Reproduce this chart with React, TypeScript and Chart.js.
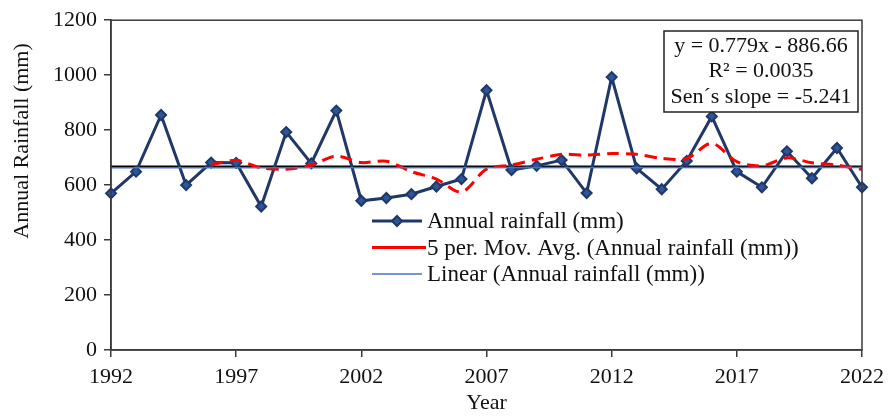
import React, { useEffect, useRef } from 'react';
import { Chart, registerables } from 'chart.js';

Chart.register(...registerables);

const years = [1992, 1993, 1994, 1995, 1996, 1997, 1998, 1999, 2000, 2001, 2002, 2003, 2004, 2005, 2006, 2007, 2008, 2009, 2010, 2011, 2012, 2013, 2014, 2015, 2016, 2017, 2018, 2019, 2020, 2021, 2022];
const rainfall = [570, 649, 855, 600, 682, 681, 522, 793, 679, 871, 543, 553, 567, 595, 622, 945, 655, 670, 691, 571, 993, 661, 585, 688, 850, 649, 592, 723, 625, 735, 592];

const movAvgYears = [1996, 1997, 1998, 1999, 2000, 2001, 2002, 2003, 2004, 2005, 2006, 2007, 2008, 2009, 2010, 2011, 2012, 2013, 2014, 2015, 2016, 2017, 2018, 2019, 2020, 2021, 2022];
const movAvg = [674, 690, 663, 658, 673, 705, 682, 687, 649, 622, 575, 658, 673, 694, 712, 709, 715, 712, 697, 697, 752, 685, 670, 699, 681, 673, 657];

const lineYears = [1992, 2022];
const meanLine = [668, 668];
const trendLine = [663, 664];

const xTickValues = [1992, 1997, 2002, 2007, 2012, 2017, 2022];
const yTickValues = [0, 200, 400, 600, 800, 1000, 1200];

const legendLabels = [
  'Annual rainfall (mm)',
  '5 per. Mov. Avg. (Annual rainfall (mm))',
  'Linear (Annual rainfall (mm))',
];
const statsLines = ['y = 0.779x - 886.66', 'R\u00B2 = 0.0035', 'Sen\u00B4s slope = -5.241'];
const xTitle = 'Year';
const yTitle = 'Annual Rainfall (mm)';

const FONT = '"Liberation Serif", "Times New Roman", serif';
const NAVY = '#1f3868';
const MARKER = '#2e559a';
const RED = '#ff0000';
const TREND = '#4472c4';
const AXIS = '#3a3a3a';

function drawDiamond(ctx: CanvasRenderingContext2D, x: number, y: number, r: number) {
  ctx.beginPath();
  ctx.moveTo(x - r, y);
  ctx.lineTo(x, y - r);
  ctx.lineTo(x + r, y);
  ctx.lineTo(x, y + r);
  ctx.closePath();
  ctx.fillStyle = MARKER;
  ctx.fill();
  ctx.lineWidth = 2;
  ctx.strokeStyle = NAVY;
  ctx.stroke();
}

const framePlugin = {
  id: 'frame',
  afterDatasetsDraw(chart: any) {
    const { ctx, chartArea } = chart;
    ctx.save();
    ctx.strokeStyle = AXIS;
    ctx.lineWidth = 1.5;
    ctx.strokeRect(chartArea.left, chartArea.top, chartArea.right - chartArea.left, chartArea.bottom - chartArea.top);
    ctx.restore();
  },
  afterDraw(chart: any) {
    const { ctx } = chart;
    ctx.save();
    // y title
    ctx.font = `22px ${FONT}`;
    ctx.fillStyle = '#111';
    ctx.textAlign = 'center';
    ctx.textBaseline = 'middle';
    ctx.translate(22, 141);
    ctx.rotate(-Math.PI / 2);
    ctx.fillText(yTitle, 0, 0);
    ctx.restore();

    // legend
    ctx.save();
    ctx.font = `23px ${FONT}`;
    ctx.textAlign = 'left';
    ctx.textBaseline = 'middle';
    const rows = [221, 247.5, 274];
    ctx.strokeStyle = NAVY;
    ctx.lineWidth = 3;
    ctx.beginPath();
    ctx.moveTo(372, rows[0]);
    ctx.lineTo(422, rows[0]);
    ctx.stroke();
    drawDiamond(ctx, 397, rows[0], 5);
    ctx.strokeStyle = RED;
    ctx.lineWidth = 3;
    ctx.beginPath();
    ctx.moveTo(372, rows[1]);
    ctx.lineTo(426, rows[1]);
    ctx.stroke();
    ctx.strokeStyle = TREND;
    ctx.lineWidth = 1.5;
    ctx.beginPath();
    ctx.moveTo(372, rows[2]);
    ctx.lineTo(422, rows[2]);
    ctx.stroke();
    ctx.fillStyle = '#111';
    legendLabels.forEach((t, i) => ctx.fillText(t, 427, rows[i] + 1));
    ctx.restore();

    // stats box
    ctx.save();
    ctx.fillStyle = '#ffffff';
    ctx.fillRect(664, 31, 194, 81);
    ctx.strokeStyle = '#222';
    ctx.lineWidth = 1.5;
    ctx.strokeRect(664, 31, 194, 81);
    ctx.font = `22px ${FONT}`;
    ctx.fillStyle = '#111';
    ctx.textAlign = 'center';
    ctx.textBaseline = 'middle';
    const sy = [46, 71, 97];
    statsLines.forEach((t, i) => ctx.fillText(t, 761, sy[i]));
    ctx.restore();
  },
};

export default function App() {
  const ref = useRef<HTMLCanvasElement | null>(null);

  useEffect(() => {
    if (!ref.current) return;
    const chart = new Chart(ref.current, {
      type: 'line',
      data: {
        datasets: [
          {
            label: 'mean',
            data: lineYears.map((x, i) => ({ x, y: meanLine[i] })),
            borderColor: '#000000',
            borderWidth: 2,
            pointRadius: 0,
            order: 4,
            clip: false,
          },
          {
            label: legendLabels[0],
            data: years.map((x, i) => ({ x, y: rainfall[i] })),
            borderColor: NAVY,
            borderWidth: 3,
            pointStyle: 'rectRot',
            pointRadius: 5,
            pointBorderWidth: 2,
            pointBackgroundColor: MARKER,
            pointBorderColor: NAVY,
            order: 3,
            clip: false,
          },
          {
            label: legendLabels[1],
            data: movAvgYears.map((x, i) => ({ x, y: movAvg[i] })),
            borderColor: RED,
            borderWidth: 3,
            borderDash: [12, 7],
            pointRadius: 0,
            tension: 0.3,
            order: 2,
            clip: false,
          },
          {
            label: legendLabels[2],
            data: lineYears.map((x, i) => ({ x, y: trendLine[i] })),
            borderColor: TREND,
            borderWidth: 1.5,
            pointRadius: 0,
            order: 1,
            clip: false,
          },
        ],
      },
      options: {
        animation: false,
        responsive: false,
        events: [],
        layout: { padding: { top: 18, right: 28, left: 0, bottom: 0 } },
        plugins: { legend: { display: false }, tooltip: { enabled: false }, title: { display: false } },
        scales: {
          x: {
            type: 'linear',
            min: 1992,
            max: 2022,
            afterFit: (s: any) => { s.height = 70; },
            afterBuildTicks: (s: any) => { s.ticks = xTickValues.map((v) => ({ value: v })); },
            ticks: {
              font: { family: FONT, size: 22 },
              color: '#111',
              padding: 7,
              maxRotation: 0,
              autoSkip: false,
              callback: (v: any) => String(v),
            },
            grid: { drawOnChartArea: false, drawTicks: true, tickLength: 7, color: AXIS, lineWidth: 1.5 },
            border: { color: AXIS, width: 1.5 },
            title: { display: true, text: xTitle, font: { family: FONT, size: 22 }, color: '#111', padding: { top: 0, bottom: 4 } },
          },
          y: {
            min: 0,
            max: 1200,
            afterFit: (s: any) => { s.width = 111; },
            afterBuildTicks: (s: any) => { s.ticks = yTickValues.map((v) => ({ value: v })); },
            ticks: {
              font: { family: FONT, size: 22 },
              color: '#111',
              padding: 7,
              callback: (v: any) => String(v),
            },
            grid: { drawOnChartArea: false, drawTicks: true, tickLength: 7, color: AXIS, lineWidth: 1.5 },
            border: { color: AXIS, width: 1.5 },
          },
        },
      },
      plugins: [framePlugin],
    });
    return () => chart.destroy();
  }, []);

  return (
    <div style={{ position: 'absolute', left: 0, top: 0, width: 891, height: 420, background: '#fff' }}>
      <canvas ref={ref} width={891} height={420} style={{ width: 891, height: 420, display: 'block' }} />
    </div>
  );
}
